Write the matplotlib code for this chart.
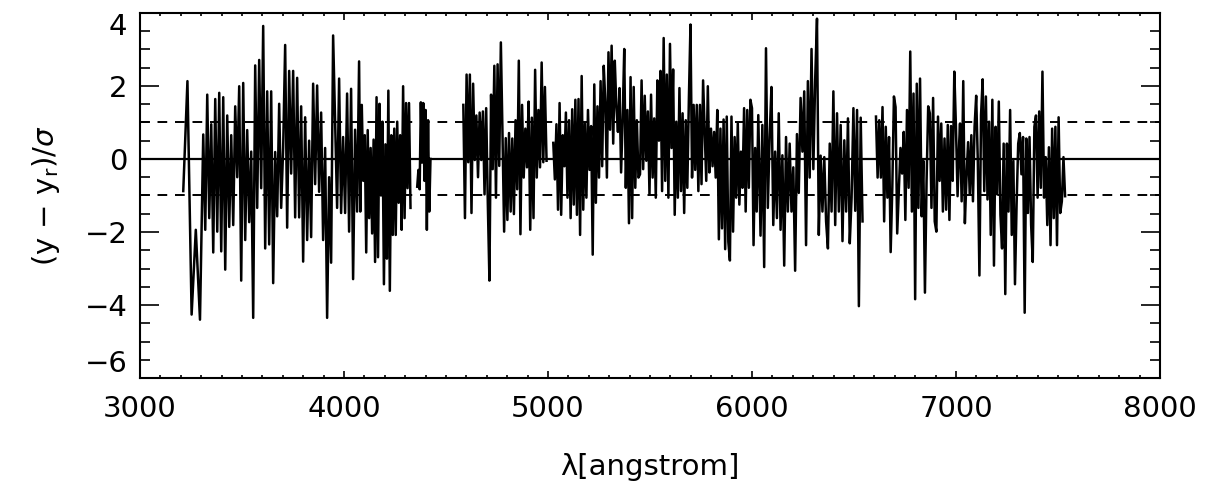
import numpy as np
import matplotlib.pyplot as plt
from matplotlib.ticker import MultipleLocator

# residuals (y - y_r)/sigma, one list per wavelength chunk
# chunk = (start wavelength, end wavelength, values)
c0 = [-0.88, 2.13, -4.26, -1.94, -4.40]
c1 = [0.67, -1.94, 1.76, -1.62, 0.95, -2.56, 1.64, -1.99, 1.81, -2.53, 1.69, -3.03, 1.19,
      -1.86, 0.65, -1.81, 1.44, -0.5, 1.99, -3.33, 2.08, -2.22, 0.79, -1.73, 0.2, -4.35,
      2.56, -1.34, 2.71, -0.8, 3.64, -2.45, 1.85, -2.34, 1.85, -3.40, 0.19, -1.57, 1.51,
      -1.34, 0.3, 3.12, -1.88, 2.41, -0.4, 2.41, -1.60, 2.22, -1.60, 1.44, -2.81, 1.14,
      -2.22, 0.5, -2.14, 2.06, -0.69, 2.01, -0.9, 1.27, -2.22, 0.3, -4.35, -0.5, -2.84,
      3.38, 0.97, -1.34, 2.20, -1.48, 0.6, -1.48, 1.79, -1.99, 1.92, -3.29, 0.8, -1.44, 2.67]
c2 = [-1.44, 1.48, -0.6, 0.65, -2.56, 0.79, -1.62, 0.3, -2.04, 0.53, -2.82, 1.69, -2.69,
      1.51, -1.0, 1.02, -3.43, 0.4, -2.73, 1.87, -3.61, 0.65, -2.08, 0.83, -2.08, 1.02,
      -1.2, 0.65, -1.94, 1.99, -1.62, 1.53, -0.8, 1.53, -1.34]
c3 = [-0.76, -0.3, -0.83, 1.55, -0.1, 1.53, -0.6, 1.34, -1.94, 1.06, -1.44, 0.0]
c4 = [1.48, -1.62, 2.31, -0.09, 2.31, -1.48, 2.06, -0.03, 1.19, -0.5, 1.27, -0.03, 1.30,
      -0.97, 1.39, -1.20, -3.33, 1.76, -0.28, 2.55, -1.06, 2.59, -0.19, 3.19, 0.69, -1.99,
      0.57, -1.67, 0.71, -1.44, 0.56, -1.51, 1.06, -0.83, 2.69, -2.06, 1.48, -0.51, 0.83,
      -0.23, 1.57, -1.94, 1.13, -1.62, 2.44, -0.51, 1.34, -0.23, 2.64, -0.09, 1.97, -0.05]
c5 = [0.44, -0.56, 0.95, -1.39, 1.53, -1.53, 0.65, -0.2, 1.27, -1.06, 1.06, -1.62, 1.36,
      -1.25, 1.62, -1.53, 1.64, -2.08, 2.27, -1.39, 0.97, -1.06, 1.34, -0.3, 0.90, -2.62,
      2.04, -1.20, 1.44, -0.51, 2.13, -0.2, 2.55, 1.57, -0.51, 2.92, 0.8, 3.10, 0.42, 2.69,
      1.44, 0.74, 1.94, -0.37, 1.11, 3.01, -0.79, 1.34, -1.76, 2.24, -1.62, 1.97, -0.79,
      1.06, -0.51, -0.42, 2.15, -0.28, 1.73, -0.05, 1.30, -0.97, 1.76, -0.51, 1.11, -1.06,
      2.15, 0.5, 2.41, -0.88, 3.31, -0.60, 2.31, -1.06, 3.15, 0.3, 2.45, -1.53, 1.02, -1.06,
      1.94, -0.88, 1.25, -1.48, 1.06, -0.79, 1.67, 3.68, -0.51, 1.48, -0.3, 1.48, -0.88,
      1.48, -0.69, 2.15, 0.74, -0.60, 1.99, -0.37, 0.83, -0.2, 0.74, -0.51, 1.34, -2.20,
      0.83, -1.90, 1.08, -2.47, 1.16, -2.27, -2.78, 1.16, -1.99, 0.60, -1.06, 0.97, -1.25,
      0.2, -0.79, 1.39, -1.44, 1.34, -0.79, 1.62, 1.39, -2.36, 0.3, -1.44, 1.20]
c6 = [-2.10, 0.93, -2.96, 3.03, -1.34, 0.60, 1.97, -1.81, 0.2, -1.62, 1.25, -1.94, 0.1,
      -2.92, 0.60, -1.44, 0.42, -1.44, -0.23, -3.06, 0.68, -0.93, 1.67, 0.2, 1.85, -2.36,
      2.13, -0.51, 3.01, -0.28, 2.16, 3.84, -2.08, 0.09, -1.44, 0.05, -1.71, -2.45, 0.42,
      -1.44, 1.85, -1.81, 1.25, -1.44, 0.93, -2.25, 0.51, -1.44, 1.11, -2.31, -1.06, 1.39,
      -1.42, 1.34, -4.03, 1.13, -1.71]
c7 = [1.16, -0.51, 1.06, -0.51, 1.42, -1.71, 0.88, -1.06, 0.60, -2.55, -0.79, 1.71, 1.42,
      -2.04, -0.88, 0.3, -0.4, 0.74, -1.67, 1.34, -0.79, 2.94, -1.44, 1.79, -3.84, 2.06,
      -1.34, 2.20, -1.57, -0.05, -3.66, -0.60, 1.44, 1.25, -1.34, 1.67, -1.71, -1.99, 1.16,
      -0.60, 0.97, -1.44, 0.56, -1.39, 0.93, -1.67, 0.90, -0.60, 2.39, 0.88, -1.02, 0.46]
c8 = [0.97, -1.16, 2.13, -1.76, -0.51, 0.46, -0.97, 0.65, -1.16, 0.88, 1.73, -0.05, -3.19,
      1.20, 2.18, -0.88, 1.71, -1.11, 1.02, -2.08, 1.62, -2.92, 0.88, -0.97, 1.57, -1.53,
      -2.45, 0.42, -3.70, 0.42, -1.44, 1.34, -2.08, -0.05, -3.43, -1.25, 0.42, 0.71, -0.42,
      0.60, -4.21, 0.56, -1.48, 0.60, -1.81, -2.82, 0.88, 1.19, -1.06, 1.30, -0.79, 2.39,
      -1.06, 0.05, -1.81, 0.32, -2.36, 0.83, -1.62, 0.88, -2.36, 1.14, -1.48, -1.16, 0.05,
      -1.02]

# contiguous stretches of spectrum (gaps between them are masked regions)
segments = [
    [(3212, 3294, c0), (3310, 4074, c1), (4080, 4326, c2)],
    [(4359, 4424, c3)],
    [(4585, 4993, c4)],
    [(5026, 6031, c5), (6042, 6542, c6)],
    [(6608, 7016, c7), (7020, 7535, c8)],
]

wave, resid = [], []
for seg in segments:
    for lo, hi, vals in seg:
        wave.extend(np.linspace(lo, hi, len(vals)))
        resid.extend(vals)
    wave.append(np.nan)
    resid.append(np.nan)
wave = np.array(wave)
resid = np.array(resid)

fig = plt.figure(figsize=(12.07, 4.93), dpi=100)
ax = fig.add_axes([0.116, 0.233, 0.845, 0.741])

ax.plot(wave, resid, color='black', lw=1.8)
ax.axhline(0, color='black', lw=1.6)
ax.axhline(1, color='black', lw=1.4, ls=(0, (5, 4)))
ax.axhline(-1, color='black', lw=1.4, ls=(0, (5, 4)))

ax.set_xlim(3000, 8000)
ax.set_ylim(-6, 4)
ax.xaxis.set_major_locator(MultipleLocator(1000))
ax.xaxis.set_minor_locator(MultipleLocator(100))
ax.yaxis.set_major_locator(MultipleLocator(2))
ax.yaxis.set_minor_locator(MultipleLocator(0.5))

ax.tick_params(which='both', direction='in', top=True, right=True, width=1.2,
               labelsize=21)
ax.tick_params(axis='x', which='major', length=5, pad=12)
ax.tick_params(axis='x', which='minor', length=2.5)
ax.tick_params(axis='y', which='major', length=14, pad=9)
ax.tick_params(axis='y', which='minor', length=7)
for s in ax.spines.values():
    s.set_linewidth(1.5)

ax.set_xlabel('λ[angstrom]', fontsize=21, labelpad=22)
ax.set_ylabel(r'(y $-$ y$_{\rm r}$)/$\sigma$', fontsize=21, labelpad=16)

# keep the end labels inside the frame, as in the original
fig.canvas.draw()
for lab in ax.get_yticklabels():
    y = lab.get_position()[1]
    if abs(y - 4) < 1e-6:
        lab.set_va('top')
    elif abs(y + 6) < 1e-6:
        lab.set_va('bottom')

fig.savefig('out.png', dpi=100)
